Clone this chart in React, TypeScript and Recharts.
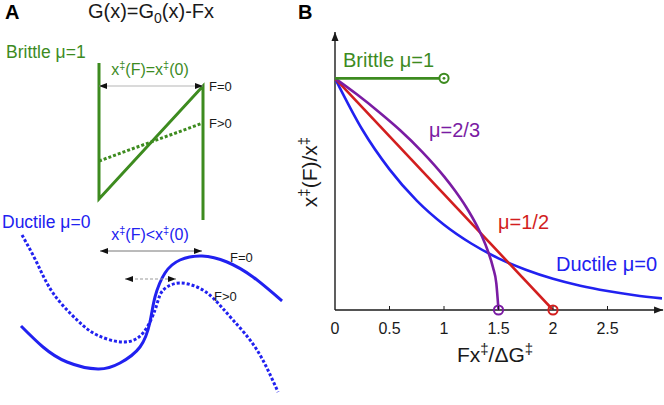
import React from "react";
import {
  LineChart,
  Line,
  XAxis,
  YAxis,
  ReferenceLine,
  ReferenceDot,
} from "recharts";

const GREEN = "#3d8b1f";
const BLUE = "#2121f0";
const PURPLE = "#7a1ca3";
const RED = "#d21e1e";
const INK = "#1a1a1a";
const FONT = '"Liberation Sans", Arial, Helvetica, sans-serif';

// Panel A: schematic free-energy profiles (reaction coordinate x, free energy G)
const brittleF0X = [0.99, 0.99, 2.03, 2.03];
const brittleF0G = [3.42, 2.06, 3.19, 1.85];
const brittleFX = [0.99, 2.03];
const brittleFG = [2.44, 2.82];

const ductileF0X = [0.21, 0.43, 0.67, 0.98, 1.2, 1.4, 1.5, 1.55, 1.65, 1.8, 2.02, 2.27, 2.53, 2.82];
const ductileF0G = [0.79, 0.58, 0.43, 0.36, 0.42, 0.58, 0.83, 1.08, 1.32, 1.45, 1.49, 1.43, 1.28, 1.04];
const ductileFX = [0.22, 0.37, 0.53, 0.77, 0.97, 1.23, 1.43, 1.55, 1.6, 1.67, 1.8, 1.97, 2.13, 2.33, 2.57, 2.78];
const ductileFG = [1.7, 1.42, 1.12, 0.85, 0.7, 0.63, 0.72, 0.95, 1.1, 1.18, 1.22, 1.18, 1.07, 0.85, 0.55, 0.13];

// double arrows: [x start, x end, G level]
const brittleArrow = [0.99, 2.03, 3.19];
const ductileArrowF0 = [1.0, 2.02, 1.54];
const ductileArrowF = [1.25, 1.76, 1.26];

// Panel B: x‡(F)/x‡ against Fx‡/ΔG‡
const brittleF = [0, 1];
const brittleRatio = [1, 1];
const halfF = [0, 2];
const halfRatio = [1, 0];
const twoThirdsF = [0, 0.2, 0.4, 0.6, 0.8, 1.0, 1.1, 1.2, 1.3, 1.35, 1.4, 1.45, 1.48, 1.5];
const twoThirdsRatio = [1, 0.931, 0.856, 0.775, 0.683, 0.577, 0.516, 0.447, 0.365, 0.316, 0.258, 0.183, 0.115, 0];
const ductileF = [0, 0.25, 0.5, 0.75, 1, 1.25, 1.5, 1.75, 2, 2.25, 2.5, 2.75, 3];
const ductileRatio = [1, 0.779, 0.607, 0.472, 0.368, 0.287, 0.223, 0.174, 0.135, 0.105, 0.082, 0.064, 0.05];
const xTicks = [0, 0.5, 1, 1.5, 2, 2.5];
const yTicks = [1];

const zipA = (xs: number[], gs: number[]) => xs.map((x, i) => ({ x, g: gs[i] }));
const zipB = (fs: number[], rs: number[]) => fs.map((f, i) => ({ f, r: rs[i] }));

function arrow(opts: { color: string; width: number; dash?: string; both: boolean; head: string; len: number; half: number }) {
  return (p: any) => {
    const { x1, y1, x2, y2 } = p;
    const a = Math.atan2(y2 - y1, x2 - x1);
    const tip = (x: number, y: number, ang: number) => {
      const bx = x - opts.len * Math.cos(ang);
      const by = y - opts.len * Math.sin(ang);
      const px = -Math.sin(ang) * opts.half;
      const py = Math.cos(ang) * opts.half;
      return `${x},${y} ${bx + px},${by + py} ${bx - px},${by - py}`;
    };
    return (
      <g>
        <line x1={x1} y1={y1} x2={x2} y2={y2} stroke={opts.color} strokeWidth={opts.width} strokeDasharray={opts.dash} />
        <polygon points={tip(x2, y2, a)} fill={opts.head} />
        {opts.both && <polygon points={tip(x1, y1, a + Math.PI)} fill={opts.head} />}
      </g>
    );
  };
}

const XTick = (p: any) => {
  const { x, y, payload } = p;
  return (
    <g>
      {payload.value > 0 && <line x1={x} y1={y} x2={x} y2={y - 4} stroke={INK} strokeWidth={1} />}
      <text x={x} y={y + 24} textAnchor="middle" fontSize={16} fill={INK} fontFamily={FONT}>
        {payload.value}
      </text>
    </g>
  );
};

function PanelA() {
  return (
    <LineChart width={300} height={405} margin={{ top: 0, right: 0, bottom: 0, left: 0 }}>
      <XAxis type="number" dataKey="x" domain={[0, 3]} hide allowDataOverflow />
      <YAxis type="number" domain={[0, 4.05]} hide allowDataOverflow />
      <Line data={zipA(brittleF0X, brittleF0G)} dataKey="g" type="linear" stroke={GREEN} strokeWidth={3} dot={false} activeDot={false} isAnimationActive={false} />
      <Line data={zipA(brittleFX, brittleFG)} dataKey="g" type="linear" stroke={GREEN} strokeWidth={3} strokeDasharray="3 2" dot={false} activeDot={false} isAnimationActive={false} />
      <Line data={zipA(ductileF0X, ductileF0G)} dataKey="g" type="natural" stroke={BLUE} strokeWidth={3} dot={false} activeDot={false} isAnimationActive={false} />
      <Line data={zipA(ductileFX, ductileFG)} dataKey="g" type="natural" stroke={BLUE} strokeWidth={3} strokeDasharray="3 2" dot={false} activeDot={false} isAnimationActive={false} />
      <ReferenceLine
        segment={[{ x: brittleArrow[0], y: brittleArrow[2] }, { x: brittleArrow[1], y: brittleArrow[2] }]}
        ifOverflow="visible"
        shape={arrow({ color: "#b5b5b5", width: 1.2, both: true, head: "#111", len: 8, half: 3 })}
      />
      <ReferenceLine
        segment={[{ x: ductileArrowF0[0], y: ductileArrowF0[2] }, { x: ductileArrowF0[1], y: ductileArrowF0[2] }]}
        ifOverflow="visible"
        shape={arrow({ color: "#777", width: 1, both: true, head: "#111", len: 8, half: 3 })}
      />
      <ReferenceLine
        segment={[{ x: ductileArrowF[0], y: ductileArrowF[2] }, { x: ductileArrowF[1], y: ductileArrowF[2] }]}
        ifOverflow="visible"
        shape={arrow({ color: "#999", width: 1, dash: "3 2", both: true, head: "#111", len: 8, half: 3 })}
      />
    </LineChart>
  );
}

function PanelB() {
  return (
    <LineChart width={364} height={405} margin={{ top: 32, right: 2, bottom: 65, left: 35 }}>
      <XAxis
        type="number"
        dataKey="f"
        domain={[0, 3]}
        ticks={xTicks}
        interval={0}
        allowDataOverflow
        axisLine={false}
        tickLine={false}
        tickSize={0}
        tickMargin={0}
        height={30}
        tick={(p: any) => <XTick {...p} />}
      />
      <YAxis
        type="number"
        domain={[0, 1.2]}
        ticks={yTicks}
        width={0}
        allowDataOverflow
        axisLine={false}
        tickLine={false}
        tickSize={0}
        tickMargin={8}
        tick={{ fontSize: 16, fill: INK, fontFamily: FONT }}
      />
      <ReferenceLine
        segment={[{ x: 0, y: 0 }, { x: 3.01, y: 0 }]}
        ifOverflow="visible"
        shape={arrow({ color: INK, width: 1.4, both: false, head: INK, len: 9, half: 3.5 })}
      />
      <ReferenceLine
        segment={[{ x: 0, y: 0 }, { x: 0, y: 1.2 }]}
        ifOverflow="visible"
        shape={arrow({ color: INK, width: 1.4, both: false, head: INK, len: 9, half: 3.5 })}
      />
      <Line data={zipB(ductileF, ductileRatio)} dataKey="r" type="monotone" stroke={BLUE} strokeWidth={2.6} dot={false} activeDot={false} isAnimationActive={false} />
      <Line data={zipB(halfF, halfRatio)} dataKey="r" type="linear" stroke={RED} strokeWidth={2.6} dot={false} activeDot={false} isAnimationActive={false} />
      <Line data={zipB(twoThirdsF, twoThirdsRatio)} dataKey="r" type="monotone" stroke={PURPLE} strokeWidth={2.6} dot={false} activeDot={false} isAnimationActive={false} />
      <Line data={zipB(brittleF, brittleRatio)} dataKey="r" type="linear" stroke={GREEN} strokeWidth={2.6} dot={false} activeDot={false} isAnimationActive={false} />
      <ReferenceDot
        x={brittleF[1]}
        y={brittleRatio[1]}
        ifOverflow="visible"
        shape={(p: any) => (
          <g>
            <circle cx={p.cx} cy={p.cy} r={4.6} fill="#fff" stroke={GREEN} strokeWidth={2} />
            <circle cx={p.cx} cy={p.cy} r={1.4} fill={GREEN} />
          </g>
        )}
      />
      <ReferenceDot x={twoThirdsF[twoThirdsF.length - 1]} y={0} r={4.6} fill="none" stroke={PURPLE} strokeWidth={2} ifOverflow="visible" />
      <ReferenceDot x={halfF[1]} y={0} r={4.6} fill="none" stroke={RED} strokeWidth={2} ifOverflow="visible" />
    </LineChart>
  );
}

function Labels() {
  return (
    <svg width={664} height={405} style={{ position: "absolute", left: 0, top: 0, pointerEvents: "none" }} fontFamily={FONT}>
      <text x={5} y={19} fontSize={20} fontWeight="bold" fill="#000">A</text>
      <text x={151} y={18} fontSize={20} textAnchor="middle" fill={INK}>
        G(x)=G<tspan dy={5} fontSize={14}>0</tspan>
        <tspan dy={-5}>(x)-Fx</tspan>
      </text>
      <text x={298} y={19} fontSize={20} fontWeight="bold" fill="#000">B</text>

      <text x={6} y={58} fontSize={17.5} fill={GREEN}>Brittle μ=1</text>
      <text x={150} y={75} fontSize={16} textAnchor="middle" fill={GREEN}>
        x<tspan dy={-6} fontSize={11}>‡</tspan>
        <tspan dy={6}>(F)=x</tspan>
        <tspan dy={-6} fontSize={11}>‡</tspan>
        <tspan dy={6}>(0)</tspan>
      </text>
      <text x={209} y={91} fontSize={13} fill={INK}>F=0</text>
      <text x={209} y={128} fontSize={13} fill={INK}>F&gt;0</text>

      <text x={2} y={228} fontSize={17.5} fill={BLUE}>Ductile μ=0</text>
      <text x={150} y={240} fontSize={16} textAnchor="middle" fill={BLUE}>
        x<tspan dy={-6} fontSize={11}>‡</tspan>
        <tspan dy={6}>(F)&lt;x</tspan>
        <tspan dy={-6} fontSize={11}>‡</tspan>
        <tspan dy={6}>(0)</tspan>
      </text>
      <text x={230} y={262} fontSize={13} fill={INK}>F=0</text>
      <text x={214} y={301} fontSize={13} fill={INK}>F&gt;0</text>

      <text x={343} y={67} fontSize={20} fill={GREEN}>Brittle μ=1</text>
      <text x={429} y={137} fontSize={20} fill={PURPLE}>μ=2/3</text>
      <text x={498} y={229} fontSize={20} fill={RED}>μ=1/2</text>
      <text x={556} y={271} fontSize={20} fill={BLUE}>Ductile μ=0</text>

      <text x={317} y={172} fontSize={21} textAnchor="middle" fill={INK} transform="rotate(-90 317 172)">
        x<tspan dy={-8} fontSize={15}>‡</tspan>
        <tspan dy={8}>(F)/x</tspan>
        <tspan dy={-8} fontSize={15}>‡</tspan>
      </text>
      <text x={495} y={362} fontSize={21} textAnchor="middle" fill={INK}>
        Fx<tspan dy={-8} fontSize={15}>‡</tspan>
        <tspan dy={8}>/ΔG</tspan>
        <tspan dy={-8} fontSize={15}>‡</tspan>
      </text>
    </svg>
  );
}

export default function App() {
  return (
    <div style={{ position: "absolute", left: 0, top: 0, width: 664, height: 405, background: "#fff", fontFamily: FONT }}>
      <div style={{ position: "absolute", left: 0, top: 0 }}>
        <PanelA />
      </div>
      <div style={{ position: "absolute", left: 300, top: 0 }}>
        <PanelB />
      </div>
      <Labels />
    </div>
  );
}
